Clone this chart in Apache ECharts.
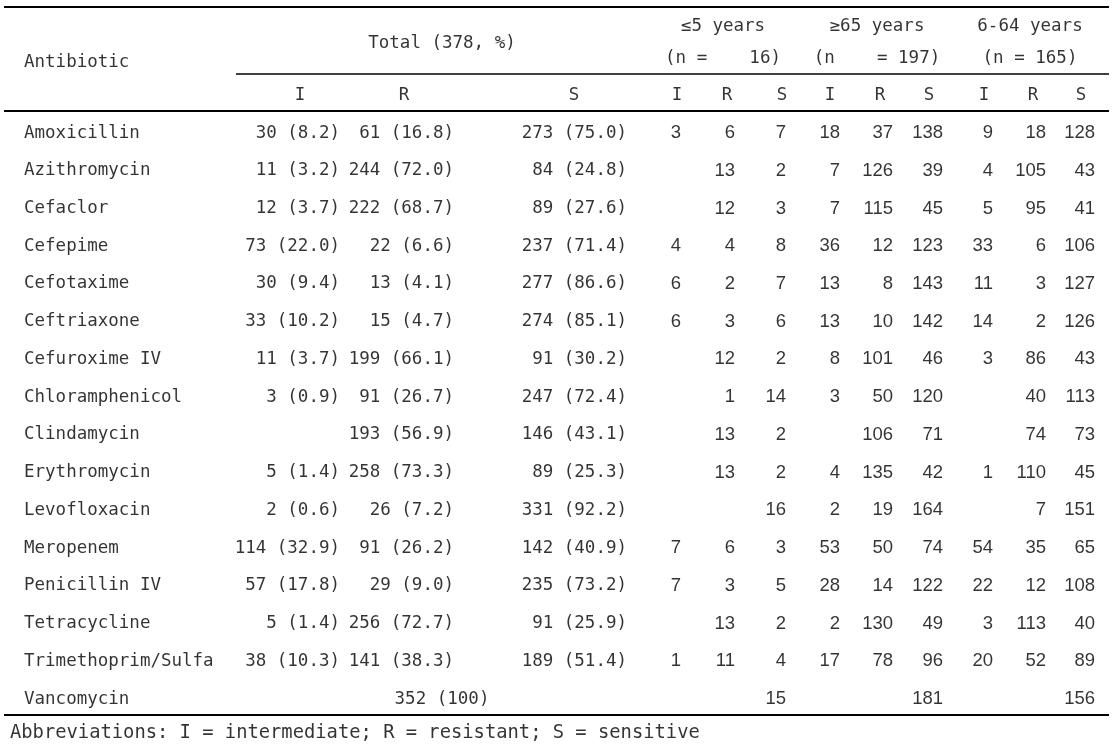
<!DOCTYPE html>
<html>
<head>
<meta charset="utf-8">
<script src="https://cdn.jsdelivr.net/npm/echarts@6/dist/echarts.min.js"></script>
<style>
html, body { margin: 0; padding: 0; background: #fff; }
#app { width: 1116px; height: 752px; }
</style>
</head>
<body>
<div id="app"></div>
<script>
// table data
var antibiotics = ['Amoxicillin', 'Azithromycin', 'Cefaclor', 'Cefepime', 'Cefotaxime', 'Ceftriaxone',
    'Cefuroxime IV', 'Chloramphenicol', 'Clindamycin', 'Erythromycin', 'Levofloxacin', 'Meropenem',
    'Penicillin IV', 'Tetracycline', 'Trimethoprim/Sulfa', 'Vancomycin'];

var totalI    = [30, 11, 12, 73, 30, 33, 11, 3, null, 5, 2, 114, 57, 5, 38, null];
var totalIPct = [8.2, 3.2, 3.7, 22.0, 9.4, 10.2, 3.7, 0.9, null, 1.4, 0.6, 32.9, 17.8, 1.4, 10.3, null];
var totalR    = [61, 244, 222, 22, 13, 15, 199, 91, 193, 258, 26, 91, 29, 256, 141, null];
var totalRPct = [16.8, 72.0, 68.7, 6.6, 4.1, 4.7, 66.1, 26.7, 56.9, 73.3, 7.2, 26.2, 9.0, 72.7, 38.3, null];
var totalS    = [273, 84, 89, 237, 277, 274, 91, 247, 146, 89, 331, 142, 235, 91, 189, 352];
var totalSPct = [75.0, 24.8, 27.6, 71.4, 86.6, 85.1, 30.2, 72.4, 43.1, 25.3, 92.2, 40.9, 73.2, 25.9, 51.4, 100];

var under5I = [3, null, null, 4, 6, 6, null, null, null, null, null, 7, 7, null, 1, null];
var under5R = [6, 13, 12, 4, 2, 3, 12, 1, 13, 13, null, 6, 3, 13, 11, null];
var under5S = [7, 2, 3, 8, 7, 6, 2, 14, 2, 2, 16, 3, 5, 2, 4, 15];

var over65I = [18, 7, 7, 36, 13, 13, 8, 3, null, 4, 2, 53, 28, 2, 17, null];
var over65R = [37, 126, 115, 12, 8, 10, 101, 50, 106, 135, 19, 50, 14, 130, 78, null];
var over65S = [138, 39, 45, 123, 143, 142, 46, 120, 71, 42, 164, 74, 122, 49, 96, 181];

var adultI = [9, 4, 5, 33, 11, 14, 3, null, null, 1, null, 54, 22, 3, 20, null];
var adultR = [18, 105, 95, 6, 3, 2, 86, 40, 74, 110, 7, 35, 12, 113, 52, null];
var adultS = [128, 43, 41, 106, 127, 126, 43, 113, 73, 45, 151, 65, 108, 40, 89, 156];

var groupLabels = ['≤5 years', '≥65 years', '6-64 years'];
var groupSizes = ['(n =    16)', '(n    = 197)', '(n = 165)'];
var subLabels = ['I', 'R', 'S'];
var totalLabel = 'Total (378, %)';
var firstColLabel = 'Antibiotic';
var footnote = 'Abbreviations: I = intermediate; R = resistant; S = sensitive';

// layout
var ROW = 37.733, ROW0 = 133;
var TEXT_SHIFT = 2; // glyphs sit a little high in their boxes
function rowAt(px) { return (px - ROW0) / ROW; }
function textRow(px) { return rowAt(px + TEXT_SHIFT); }
var monoFont = 'DejaVu Sans Mono';
var sansFont = 'Liberation Sans';
var monoSize = 17.5;
var totalRight = [340, 454, 627];
var totalHead = [300, 404, 574];
var ageRight = [681, 735, 786, 840, 893, 943, 993, 1046, 1095];
var ageHead = [677, 727, 782, 830, 880, 929, 984, 1033, 1081];
var groupCenter = [723, 877, 1030];

function pctText(v) { return v === 100 ? '100' : v.toFixed(1); }

var nameData = antibiotics.map(function (n, i) { return { value: [24, i], t: n }; });

var totalRightData = [], totalCenterData = [];
antibiotics.forEach(function (n, i) {
    var cells = [[totalI[i], totalIPct[i]], [totalR[i], totalRPct[i]], [totalS[i], totalSPct[i]]];
    if (totalI[i] == null && totalR[i] == null) {
        // single-value row sits under the group heading
        totalCenterData.push({ value: [442, i], t: totalS[i] + ' (' + pctText(totalSPct[i]) + ')' });
        return;
    }
    cells.forEach(function (c, k) {
        if (c[0] == null) return;
        totalRightData.push({ value: [totalRight[k], i], t: c[0] + ' (' + pctText(c[1]) + ')' });
    });
});

var ageCols = [under5I, under5R, under5S, over65I, over65R, over65S, adultI, adultR, adultS];
var ageData = [];
ageCols.forEach(function (col, k) {
    col.forEach(function (v, i) {
        if (v != null) ageData.push({ value: [ageRight[k], i], t: String(v) });
    });
});

var headMono = [{ value: [442, textRow(41)], t: totalLabel }];
totalHead.forEach(function (x, k) { headMono.push({ value: [x, textRow(93)], t: subLabels[k] }); });
ageHead.forEach(function (x, k) { headMono.push({ value: [x, textRow(93)], t: subLabels[k % 3] }); });
groupCenter.forEach(function (x, k) {
    headMono.push({ value: [x, textRow(24)], t: groupLabels[k] });
    headMono.push({ value: [x, textRow(56)], t: groupSizes[k] });
});

function textSeries(data, pos, font, size) {
    return {
        type: 'scatter',
        symbolSize: 0,
        silent: true,
        data: data,
        label: {
            show: true,
            position: pos,
            distance: 0,
            color: '#000',
            fontFamily: font,
            fontSize: size,
            formatter: function (p) { return p.data.t; }
        }
    };
}

function rule(x1, x2, px, w) {
    return [{ coord: [x1, rowAt(px)], lineStyle: { width: w } }, { coord: [x2, rowAt(px)] }];
}

var linesSeries = textSeries([], 'inside', monoFont, monoSize);
linesSeries.markLine = {
    silent: true,
    symbol: ['none', 'none'],
    label: { show: false },
    lineStyle: { color: '#000', type: 'solid', width: 1.5 },
    data: [
        rule(4, 1109, 7, 2),
        rule(236, 1109, 74, 1.5),
        rule(4, 1109, 111, 2),
        rule(4, 1109, 715, 2)
    ]
};

var myChart = echarts.init(document.getElementById('app'));
myChart.setOption({
    animation: false,
    backgroundColor: '#fff',
    grid: { left: 0, right: 0, top: 0, bottom: 0 },
    xAxis: { type: 'value', min: 0, max: 1116, show: false },
    yAxis: { type: 'value', inverse: true, min: rowAt(0), max: rowAt(752), show: false },
    series: [
        textSeries(nameData, 'right', monoFont, monoSize),
        textSeries(totalRightData, 'left', monoFont, monoSize),
        textSeries(totalCenterData, 'inside', monoFont, monoSize),
        textSeries(ageData, 'left', sansFont, 18.5),
        textSeries(headMono, 'inside', monoFont, monoSize),
        textSeries([{ value: [24, textRow(60)], t: firstColLabel }], 'right', monoFont, monoSize),
        textSeries([{ value: [10, textRow(731)], t: footnote }], 'right', monoFont, 18.8),
        linesSeries
    ]
});
</script>
</body>
</html>
